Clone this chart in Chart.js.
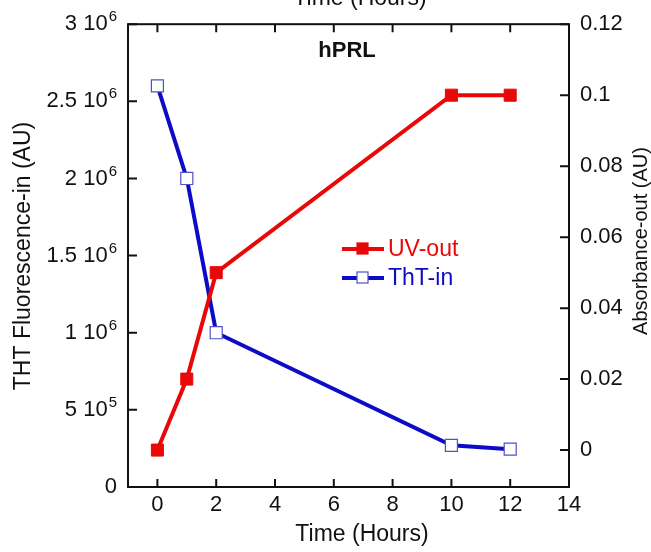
<!DOCTYPE html>
<html>
<head>
<meta charset="utf-8">
<script src="https://cdn.jsdelivr.net/npm/chart.js@4.4.0/dist/chart.umd.min.js"></script>
<style>
  html, body { margin: 0; padding: 0; background: #fff; }
  #wrap { width: 651px; height: 552px; position: relative; overflow: hidden; }
</style>
</head>
<body>
<div id="wrap"><canvas id="chart" width="651" height="552"></canvas></div>
<script>
// données
const hours = [0, 1, 2, 10, 12];
const uvOut = [0, 0.02, 0.05, 0.1, 0.1];            // axe droit (Absorbance)
const thtIn = [2.6e6, 2.0e6, 1.0e6, 2.7e5, 2.45e5]; // axe gauche (fluorescence)

const xTicks = [0, 2, 4, 6, 8, 10, 12, 14];
const leftTicks = [0, 5e5, 1e6, 1.5e6, 2e6, 2.5e6, 3e6];
const leftTickBase = ['0', '5 10', '1 10', '1.5 10', '2 10', '2.5 10', '3 10'];
const leftTickExp = ['', '5', '6', '6', '6', '6', '6'];
const rightTicks = [0, 0.02, 0.04, 0.06, 0.08, 0.1, 0.12];
const rightTickLabels = ['0', '0.02', '0.04', '0.06', '0.08', '0.1', '0.12'];

const RED = '#e80808';
const BLUE = '#0c0cc8';
const FONT = "'Liberation Sans', Arial, sans-serif";

Chart.defaults.font.family = FONT;
Chart.defaults.font.size = 22;
Chart.defaults.color = '#111';

// cadre, petits traits vers l'intérieur, étiquettes 10^n, titres et légende
const decorPlugin = {
    id: 'decor',
    afterDraw(chart) {
        const ctx = chart.ctx;
        const a = chart.chartArea;
        const sx = chart.scales.x, sy = chart.scales.y, sy2 = chart.scales.y2;
        ctx.save();
        ctx.strokeStyle = '#111';
        ctx.lineWidth = 2;
        ctx.strokeRect(a.left, a.top, a.right - a.left, a.bottom - a.top);

        ctx.beginPath();
        xTicks.forEach(v => {
            const px = sx.getPixelForValue(v);
            ctx.moveTo(px, a.bottom); ctx.lineTo(px, a.bottom - 8);
            ctx.moveTo(px, a.top); ctx.lineTo(px, a.top + 8);
        });
        leftTicks.forEach(v => {
            const py = sy.getPixelForValue(v);
            ctx.moveTo(a.left, py); ctx.lineTo(a.left + 9, py);
        });
        rightTicks.forEach(v => {
            const py = sy2.getPixelForValue(v);
            ctx.moveTo(a.right, py); ctx.lineTo(a.right - 9, py);
        });
        ctx.stroke();

        // étiquettes de l'axe gauche avec exposant
        ctx.fillStyle = '#111';
        ctx.textBaseline = 'middle';
        leftTicks.forEach((v, i) => {
            const py = sy.getPixelForValue(v);
            const xr = a.left - 11;
            ctx.font = '15px ' + FONT;
            const ew = leftTickExp[i] ? ctx.measureText(leftTickExp[i]).width + 1 : 0;
            ctx.textAlign = 'right';
            if (leftTickExp[i]) ctx.fillText(leftTickExp[i], xr, py - 7);
            ctx.font = '22px ' + FONT;
            ctx.fillText(leftTickBase[i], xr - ew, py);
        });

        // titres
        ctx.font = '23px ' + FONT;
        ctx.textAlign = 'center';
        ctx.textBaseline = 'middle';
        ctx.fillText('Time (Hours)', 362, 535);
        ctx.textBaseline = 'alphabetic';
        ctx.fillText('Time (Hours)', 360, 5);

        ctx.save();
        ctx.translate(24, 256);
        ctx.rotate(-Math.PI / 2);
        ctx.textBaseline = 'middle';
        ctx.fillText('THT Fluorescence-in (AU)', 0, 0);
        ctx.restore();

        ctx.save();
        ctx.translate(641, 241);
        ctx.rotate(-Math.PI / 2);
        ctx.font = '20px ' + FONT;
        ctx.textBaseline = 'middle';
        ctx.fillText('Absorbance-out (AU)', 0, 0);
        ctx.restore();

        ctx.font = 'bold 22px ' + FONT;
        ctx.fillText('hPRL', 347, 57);

        // légende
        const rows = [
            { label: 'UV-out', color: RED, fill: RED, border: RED, y: 249 },
            { label: 'ThT-in', color: BLUE, fill: '#fff', border: '#5050c8', y: 278 }
        ];
        rows.forEach(r => {
            ctx.strokeStyle = r.color;
            ctx.lineWidth = 4;
            ctx.beginPath();
            ctx.moveTo(342, r.y); ctx.lineTo(384, r.y);
            ctx.stroke();
            ctx.fillStyle = r.fill;
            ctx.fillRect(357, r.y - 6, 11, 11);
            ctx.lineWidth = 1.2;
            ctx.strokeStyle = r.border;
            ctx.strokeRect(357, r.y - 6, 11, 11);
            ctx.fillStyle = r.color;
            ctx.font = '23px ' + FONT;
            ctx.textAlign = 'left';
            ctx.textBaseline = 'middle';
            ctx.fillText(r.label, 388, r.y + 1);
        });
        ctx.restore();
    }
};

const ctx = document.getElementById('chart').getContext('2d');
new Chart(ctx, {
    type: 'line',
    data: {
        datasets: [
            {
                label: 'UV-out',
                data: hours.map((h, i) => ({ x: h, y: uvOut[i] })),
                yAxisID: 'y2',
                borderColor: RED,
                backgroundColor: RED,
                borderWidth: 4,
                pointStyle: 'rect',
                pointRadius: 8.5,
                pointBorderWidth: 1,
                pointBackgroundColor: RED,
                pointBorderColor: RED,
                tension: 0,
                order: 0
            },
            {
                label: 'ThT-in',
                data: hours.map((h, i) => ({ x: h, y: thtIn[i] })),
                yAxisID: 'y',
                borderColor: BLUE,
                backgroundColor: '#fff',
                borderWidth: 4,
                pointStyle: 'rect',
                pointRadius: 8.5,
                pointBorderWidth: 1.2,
                pointBackgroundColor: '#fff',
                pointBorderColor: '#5050c8',
                tension: 0,
                order: 1
            }
        ]
    },
    options: {
        responsive: false,
        animation: false,
        devicePixelRatio: 1,
        layout: { padding: { top: 22, left: 0, right: 0, bottom: 0 } },
        plugins: {
            legend: { display: false },
            tooltip: { enabled: false }
        },
        scales: {
            x: {
                type: 'linear',
                min: -1,
                max: 14,
                grid: { display: false, drawTicks: false },
                border: { display: false },
                ticks: { padding: 5, maxRotation: 0 },
                afterBuildTicks: s => { s.ticks = xTicks.map(v => ({ value: v })); },
                afterFit: s => { s.height = 65; }
            },
            y: {
                position: 'left',
                min: 0,
                max: 3e6,
                grid: { display: false, drawTicks: false },
                border: { display: false },
                ticks: { display: false },
                afterBuildTicks: s => { s.ticks = leftTicks.map(v => ({ value: v })); },
                afterFit: s => { s.width = 128; }
            },
            y2: {
                position: 'right',
                min: -0.0104,
                max: 0.12,
                grid: { display: false, drawTicks: false },
                border: { display: false },
                ticks: {
                    padding: 11,
                    callback: v => rightTickLabels[rightTicks.indexOf(v)]
                },
                afterBuildTicks: s => { s.ticks = rightTicks.map(v => ({ value: v })); },
                afterFit: s => { s.width = 82; }
            }
        }
    },
    plugins: [decorPlugin]
});
</script>
</body>
</html>
